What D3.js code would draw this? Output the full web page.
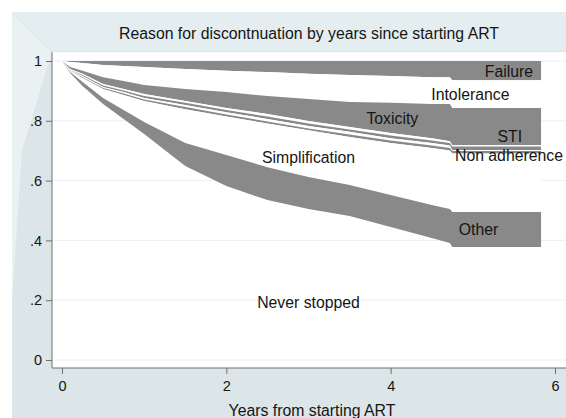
<!doctype html>
<html>
<head>
<meta charset="utf-8">
<title>Reason for discontinuation</title>
<script src="https://cdn.jsdelivr.net/npm/d3@7"></script>
<style>
    body { margin: 0; background: #fff; }
    text { font-family: "Liberation Sans", Arial, Helvetica, sans-serif; fill: #151515; }
    .tick line { stroke: #707070; }
    .tick text { font-size: 14.5px; }
</style>
</head>
<body>
<div id="chart"></div>
<script>

const chartTitle = "Reason for discontnuation by years since starting ART";
const xTitle = "Years from starting ART";

const years = [0, 0.1, 0.25, 0.5, 0.75, 1, 1.5, 2, 2.5, 3, 3.5, 4, 4.5, 4.72, 4.75, 5.83];

// lower edge of each band (cumulative, top to bottom)
const failure        = [1, .997, .993, .987, .983, .980, .973, .967, .963, .957, .953, .950, .946, .946, .936, .936];
const intolerance    = [1, .980, .967, .946, .933, .920, .906, .896, .883, .873, .863, .860, .856, .856, .843, .843];
const toxicity       = [1, .973, .957, .923, .906, .890, .866, .843, .823, .799, .779, .759, .742, .732, .719, .719];
const sti            = [1, .971, .953, .918, .901, .883, .860, .836, .814, .791, .771, .751, .734, .726, .714, .714];
const nonAdherence   = [1, .970, .950, .913, .896, .876, .853, .829, .806, .783, .763, .742, .726, .717, .702, .702];
const unlabelledA    = [1, .968, .946, .910, .891, .871, .846, .821, .798, .774, .754, .734, .717, .709, .699, .699];
const unlabelledB    = [1, .967, .943, .906, .886, .866, .839, .814, .791, .768, .746, .726, .709, .701, .691, .691];
const simplification = [1, .963, .930, .876, .836, .796, .726, .686, .645, .612, .585, .552, .518, .505, .495, .495];
const other          = [1, .960, .916, .856, .806, .756, .649, .582, .535, .505, .482, .445, .408, .391, .378, .378];

const bands = [failure, intolerance, toxicity, sti, nonAdherence, unlabelledA, unlabelledB, simplification, other];

// text labels placed in data units
const labelText  = ["Failure", "Intolerance", "Toxicity", "STI", "Non adherence", "Simplification", "Other", "Never stopped"];
const labelYear  = [5.44, 4.97, 4.02, 5.45, 5.44, 3.0, 5.07, 3.0];
const labelValue = [0.967, 0.890, 0.808, 0.747, 0.686, 0.679, 0.438, 0.194];

const yTicks = [0, 0.2, 0.4, 0.6, 0.8, 1];
const yTickLabels = ["0", ".2", ".4", ".6", ".8", "1"];
const xTicks = [0, 2, 4, 6];

const w = 566;
const h = 418;

const svg = d3.select("#chart")
    .append("svg")
    .attr("width", w)
    .attr("height", h);

// backdrop (scanned graph look)
svg.append("rect")
    .attr("x", 12).attr("y", 12)
    .attr("width", w - 12).attr("height", h - 12)
    .style("fill", "#dce6e9");

svg.append("polygon")
    .attr("points", "12,12 566,12 566,51 52,51")
    .style("fill", "#e4edef");

svg.append("polygon")
    .attr("points", "12,13 52,52 22,150 12,300")
    .style("fill", "#eaf1f3");

svg.append("rect")
    .attr("x", 52).attr("y", 52)
    .attr("width", w - 52).attr("height", 368 - 52)
    .style("fill", "#ffffff");

const xScale = d3.scaleLinear()
    .domain([0, 6])
    .range([62, 555]);

const yScale = d3.scaleLinear()
    .domain([0, 1])
    .range([360, 61]);

// faint grid
svg.selectAll("line.grid")
    .data(yTicks)
    .enter()
    .append("line")
    .attr("class", "grid")
    .attr("x1", 52).attr("x2", w)
    .attr("y1", d => yScale(d)).attr("y2", d => yScale(d))
    .style("stroke", "#eaf0f2")
    .style("stroke-width", 1);

// stacked bands, alternating grey / white
const area = d3.area()
    .x((d, i) => xScale(years[i]))
    .y0(d => yScale(d[0]))
    .y1(d => yScale(d[1]));

bands.forEach(function(lower, b) {
    const upper = b === 0 ? years.map(() => 1) : bands[b - 1];
    const pts = lower.map((v, i) => [v, upper[i]]);
    svg.append("path")
        .datum(pts)
        .attr("d", area)
        .style("fill", b % 2 === 0 ? "#898989" : "#ffffff")
        .style("stroke", "none");
});

// axes
const yAxis = d3.axisLeft(yScale)
    .tickValues(yTicks)
    .tickFormat((d, i) => yTickLabels[i])
    .tickSize(6)
    .tickPadding(4);

svg.append("g")
    .attr("transform", "translate(52,0)")
    .call(yAxis)
    .call(g => g.select(".domain").remove());

const xAxis = d3.axisBottom(xScale)
    .tickValues(xTicks)
    .tickFormat(d3.format("d"))
    .tickSize(6)
    .tickPadding(7);

svg.append("g")
    .attr("transform", "translate(0,368)")
    .call(xAxis)
    .call(g => g.select(".domain").remove());

svg.append("line")
    .attr("x1", 52).attr("x2", 52)
    .attr("y1", 52).attr("y2", 368)
    .style("stroke", "#707070");

svg.append("line")
    .attr("x1", 52).attr("x2", w)
    .attr("y1", 368).attr("y2", 368)
    .style("stroke", "#707070");

// band labels
svg.selectAll("text.lab")
    .data(labelText)
    .enter()
    .append("text")
    .attr("class", "lab")
    .attr("x", (d, i) => xScale(labelYear[i]))
    .attr("y", (d, i) => yScale(labelValue[i]))
    .attr("dy", "0.36em")
    .style("text-anchor", "middle")
    .style("font-size", "15.8px")
    .text(d => d);

svg.append("text")
    .attr("x", 309)
    .attr("y", 39)
    .style("text-anchor", "middle")
    .style("font-size", "15.8px")
    .text(chartTitle);

svg.append("text")
    .attr("x", 312)
    .attr("y", 416)
    .style("text-anchor", "middle")
    .style("font-size", "15.8px")
    .text(xTitle);

</script>
</body>
</html>
